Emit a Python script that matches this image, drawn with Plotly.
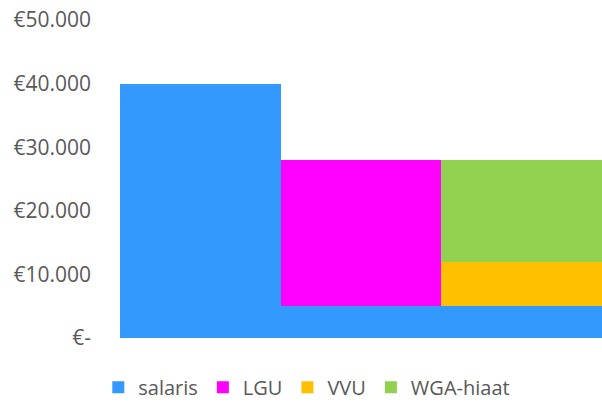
import plotly.graph_objects as go

categories = ["A", "B", "C"]
salaris = [40000, 5000, 5000]
lgu = [0, 23000, 0]
vvu = [0, 0, 7000]
wga_hiaat = [0, 0, 16000]
tick_vals = [0, 10000, 20000, 30000, 40000, 50000]
tick_text = ["€-", "€10.000", "€20.000", "€30.000", "€40.000", "€50.000"]

series = [
    ("salaris", salaris, "#3399FF"),
    ("LGU", lgu, "#FF00FF"),
    ("VVU", vvu, "#FFC000"),
    ("WGA-hiaat", wga_hiaat, "#92D050"),
]

fig = go.Figure()
for name, vals, color in series:
    fig.add_trace(go.Bar(x=categories, y=vals, name=name, marker=dict(color=color, line=dict(width=0))))

fig.update_layout(
    width=602, height=403,
    margin=dict(l=120, r=0, t=20, b=65, autoexpand=False),
    barmode="stack", bargap=0,
    plot_bgcolor="white", paper_bgcolor="white",
    font=dict(family="Open Sans", size=21, color="#595959"),
    showlegend=True,
    legend=dict(orientation="h", x=-0.045, xanchor="left", y=-0.155, yanchor="middle",
                font=dict(size=20, color="#595959"), itemwidth=30, traceorder="normal"),
    xaxis=dict(showticklabels=False, showgrid=False, zeroline=False, showline=False, ticks="", automargin=False),
    yaxis=dict(range=[0, 50000], tickvals=tick_vals, ticktext=tick_text, showgrid=False,
               zeroline=False, showline=False, ticks="", ticklabelstandoff=28, automargin=False,
               ticklabeloverflow="allow"),
)

fig.write_html("out.html", config={"displayModeBar": False},
               post_script="document.body.style.margin='0px';")
